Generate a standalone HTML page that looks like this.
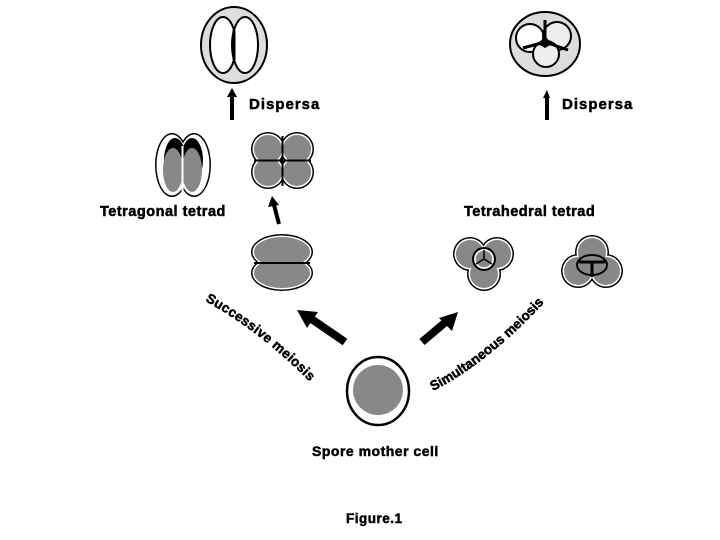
<!DOCTYPE html>
<html><head><style>body{margin:0;background:#fff}svg{display:block}text{font-family:"Liberation Sans",sans-serif;font-weight:bold;fill:#000;stroke:#000;stroke-width:0.5}</style></head>
<body>
<svg width="720" height="540" viewBox="0 0 720 540" xmlns="http://www.w3.org/2000/svg">
<!-- top left spore -->
<ellipse cx="234" cy="45" rx="33" ry="38" fill="#ddd" stroke="#000" stroke-width="2"/>
<ellipse cx="223" cy="45" rx="13" ry="28" fill="#fff" stroke="#000" stroke-width="2"/>
<ellipse cx="245" cy="45" rx="13" ry="28" fill="#fff" stroke="#000" stroke-width="2"/>
<line x1="234" y1="30" x2="234" y2="60" stroke="#000" stroke-width="3"/>
<!-- dispersa left -->
<line x1="232" y1="120" x2="232" y2="95" stroke="#000" stroke-width="4"/>
<polygon points="227,97 232,88 237,97" fill="#000"/>
<text x="249" y="109" font-size="15" letter-spacing="1">Dispersa</text>
<!-- tetragonal left -->
<g>
<ellipse cx="172" cy="165" rx="17" ry="32" fill="#000"/>
<ellipse cx="194" cy="165" rx="17" ry="32" fill="#000"/>
<ellipse cx="172" cy="165" rx="15.5" ry="30.5" fill="#fff"/>
<ellipse cx="194" cy="165" rx="15.5" ry="30.5" fill="#fff"/>
<ellipse cx="175" cy="160" rx="11" ry="22" fill="#000"/>
<ellipse cx="192" cy="160" rx="11" ry="22" fill="#000"/>
<ellipse cx="173" cy="170" rx="10" ry="22" fill="#888"/>
<ellipse cx="192" cy="170" rx="10" ry="22" fill="#888"/>
<line x1="182.5" y1="146" x2="182.5" y2="193" stroke="#fff" stroke-width="2"/>
</g>
<!-- cross tetrad -->
<g>
<g fill="#000"><circle cx="268" cy="149" r="17"/><circle cx="297" cy="149" r="17"/><circle cx="268" cy="172" r="17"/><circle cx="297" cy="172" r="17"/></g>
<g fill="#fff"><circle cx="268" cy="149" r="15.5"/><circle cx="297" cy="149" r="15.5"/><circle cx="268" cy="172" r="15.5"/><circle cx="297" cy="172" r="15.5"/></g>
<g fill="#888"><circle cx="268" cy="149" r="14"/><circle cx="297" cy="149" r="14"/><circle cx="268" cy="172" r="14"/><circle cx="297" cy="172" r="14"/></g>
<line x1="282.5" y1="136" x2="282.5" y2="186" stroke="#000" stroke-width="2"/>
<line x1="254" y1="160.5" x2="311" y2="160.5" stroke="#000" stroke-width="2"/>
</g>
<text x="100" y="216" font-size="14.5" letter-spacing="0.5">Tetragonal tetrad</text>
<!-- small arrow -->
<line x1="279" y1="224" x2="274" y2="205" stroke="#000" stroke-width="4"/>
<polygon points="268,207 272,196 279,205" fill="#000"/>
<!-- dyad -->
<g>
<g fill="#000"><ellipse cx="282" cy="252" rx="31" ry="18"/><ellipse cx="282" cy="273" rx="31" ry="18"/></g>
<g fill="#fff"><ellipse cx="282" cy="252" rx="29.5" ry="16.5"/><ellipse cx="282" cy="273" rx="29.5" ry="16.5"/></g>
<g fill="#888"><ellipse cx="282" cy="252" rx="28" ry="15"/><ellipse cx="282" cy="273" rx="28" ry="15"/></g>
<line x1="254" y1="263" x2="310" y2="263" stroke="#000" stroke-width="2"/>
</g>
<!-- top right spore -->
<ellipse cx="545" cy="44" rx="35" ry="32" fill="#ddd" stroke="#000" stroke-width="2"/>
<circle cx="530" cy="38" r="14" fill="#fff" stroke="#000" stroke-width="2"/>
<circle cx="557" cy="36" r="14" fill="#eee" stroke="#000" stroke-width="2"/>
<circle cx="546" cy="54" r="13" fill="#eee" stroke="#000" stroke-width="2"/>
<path d="M545,20 L545,42 M545,42 L523,48 M545,42 L568,50" stroke="#000" stroke-width="3" fill="none"/>
<polygon points="538,44 545,36 552,44 545,48" fill="#000"/>
<!-- dispersa right -->
<line x1="547" y1="120" x2="547" y2="96" stroke="#000" stroke-width="4"/>
<polygon points="543,98 547,90 550,98" fill="#000"/>
<text x="562" y="109" font-size="15" letter-spacing="1">Dispersa</text>
<text x="464" y="216" font-size="14.5" letter-spacing="0.5">Tetrahedral tetrad</text>
<!-- tetrahedral left -->
<g>
<g fill="#000"><circle cx="470" cy="254" r="17"/><circle cx="497" cy="254" r="17"/><circle cx="484" cy="274" r="17"/></g>
<g fill="#fff"><circle cx="470" cy="254" r="15.5"/><circle cx="497" cy="254" r="15.5"/><circle cx="484" cy="274" r="15.5"/></g>
<g fill="#888"><circle cx="470" cy="254" r="14"/><circle cx="497" cy="254" r="14"/><circle cx="484" cy="274" r="14"/></g>
<circle cx="484" cy="259" r="11" fill="none" stroke="#000" stroke-width="2"/>
<circle cx="484" cy="259" r="9" fill="none" stroke="#fff" stroke-width="1.5"/>
<path d="M484,250 L484,259 L476,264 M484,259 L492,264" stroke="#000" stroke-width="1.5" fill="none"/>
</g>
<!-- tetrahedral right -->
<g>
<g fill="#000"><circle cx="592" cy="252" r="17"/><circle cx="578" cy="271" r="17"/><circle cx="606" cy="271" r="17"/></g>
<g fill="#fff"><circle cx="592" cy="252" r="15.5"/><circle cx="578" cy="271" r="15.5"/><circle cx="606" cy="271" r="15.5"/></g>
<g fill="#888"><circle cx="592" cy="252" r="14"/><circle cx="578" cy="271" r="14"/><circle cx="606" cy="271" r="14"/></g>
<ellipse cx="592" cy="265" rx="15" ry="10" fill="none" stroke="#000" stroke-width="2"/>
<path d="M579,262 L605,262 M592,262 L592,277" stroke="#000" stroke-width="3" fill="none"/>
</g>
<!-- big arrows -->
<line x1="345" y1="342" x2="310" y2="318" stroke="#000" stroke-width="8"/>
<polygon points="297,310 318,312 307,328" fill="#000"/>
<line x1="422" y1="342" x2="448" y2="320" stroke="#000" stroke-width="8"/>
<polygon points="458,312 452,331 439,318" fill="#000"/>
<!-- mother cell -->
<ellipse cx="378" cy="391" rx="31" ry="34" fill="#fff" stroke="#000" stroke-width="2.5"/>
<circle cx="378" cy="390" r="25" fill="#888"/>
<text x="312" y="456" font-size="14" letter-spacing="0.5">Spore mother cell</text>
<text x="346" y="523" font-size="13.5" letter-spacing="0.5">Figure.1</text>
<!-- curved labels -->
<defs>
<path id="p1" d="M205,301 Q262,332 316,388"/>
<path id="p2" d="M433,391 Q497,358 560,285"/>
</defs>
<text font-size="13.5" letter-spacing="0.3"><textPath href="#p1">Successive meiosis</textPath></text>
<text font-size="13.5" letter-spacing="0"><textPath href="#p2">Simultaneous meiosis</textPath></text>
</svg>
</body></html>
